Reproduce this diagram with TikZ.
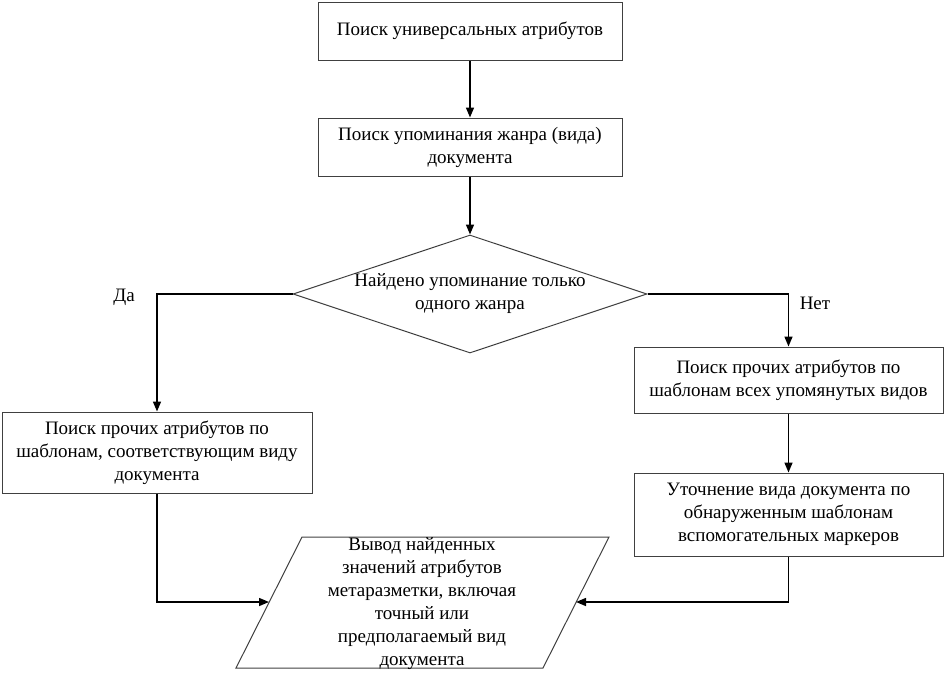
\documentclass[tikz,border=0pt]{standalone}
\usepackage{fontspec}
\setmainfont{Liberation Serif}
\usetikzlibrary{shapes.geometric,arrows.meta}
\newcommand\dfont{\fontsize{19}{23}\selectfont}
\begin{document}
\begin{tikzpicture}[x=1pt,y=-1pt,
  box/.style={draw=black!75,line width=1pt,align=center,inner sep=0pt,font=\dfont},
  conn/.style={line width=1.5pt,-{Triangle[length=10pt,width=8pt]}},
  lbl/.style={font=\dfont,inner sep=0pt}]
\useasboundingbox (0,0) rectangle (945,681);

\node[box,minimum width=304pt,minimum height=58pt] (b1) at (470,31) {Поиск универсальных атрибутов};
\node[box,minimum width=304pt,minimum height=58pt] (b2) at (470,147) {Поиск упоминания жанра (вида)\\документа};
\node[diamond,draw=black!75,line width=1pt,minimum width=354pt,minimum height=118pt,inner sep=0pt] (dec) at (470,294) {};
\node[lbl,align=center] (dect) at (470,294) {Найдено упоминание только\\одного жанра};
\node[box,minimum width=310pt,minimum height=81pt] (lb) at (157,452.5) {Поиск прочих атрибутов по\\шаблонам, соответствующим виду\\документа};
\node[box,minimum width=309pt,minimum height=66pt] (r1) at (788.5,380) {Поиск прочих атрибутов по\\шаблонам всех упомянутых видов};
\node[box,minimum width=309pt,minimum height=83pt] (r2) at (788.5,514.5) {Уточнение вида документа по\\обнаруженным шаблонам\\вспомогательных маркеров};

% parallelogram
\coordinate (pTL) at (302,537);
\coordinate (pTR) at (609,537);
\coordinate (pBR) at (543,668);
\coordinate (pBL) at (236,668);
\draw[draw=black!75,line width=1pt] (pTL) -- (pTR) -- (pBR) -- (pBL) -- cycle;
\node[lbl,align=center] (out) at (422,604) {Вывод найденных\\значений атрибутов\\метаразметки, включая\\точный или\\предполагаемый вид\\документа};
\coordinate (pl) at (269,602);
\coordinate (pr) at (576,602);

\node[lbl] (da) at (124,297) {Да};
\node[lbl] (net) at (815,303) {Нет};

\draw[conn] (b1) -- (b2);
\draw[conn] (b2) -- (dec.north);
\draw[conn] (dec.west) -| (lb.north);
\draw[conn] (dec.east) -| (r1.north);
\draw[conn] (r1) -- (r2);
\draw[conn] (lb.south) |- (pl);
\draw[conn] (r2.south) |- (pr);
\end{tikzpicture}
\end{document}
